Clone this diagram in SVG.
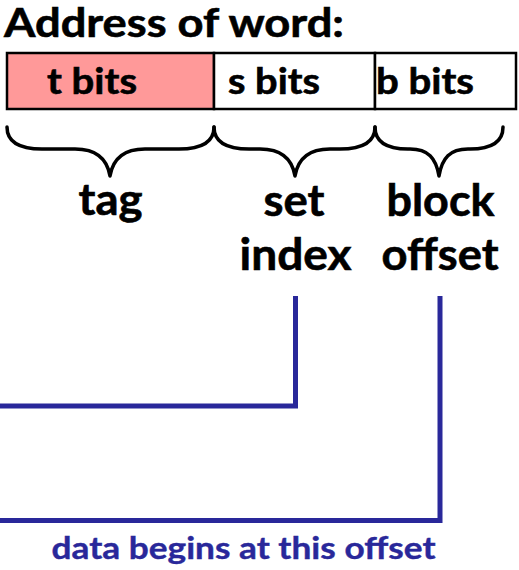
<svg xmlns="http://www.w3.org/2000/svg" width="519" height="570" viewBox="0 0 519 570">
  <style>
    .lbl { font-family: Lato, "Open Sans", "Liberation Sans", sans-serif; font-weight: bold; fill: #000; stroke: #000; stroke-width: 0.6; }
    .title { font-size: 41px; }
    .field { font-size: 36px; }
    .part { font-size: 43px; }
    .note { font-family: Lato, "Open Sans", "Liberation Sans", sans-serif; font-weight: bold; font-size: 31px; fill: #29289A; stroke: #29289A; stroke-width: 0.4; }
    .cell { stroke: #000; stroke-width: 2.5; }
    .brace { fill: none; stroke: #000; stroke-width: 3.5; stroke-linecap: round; stroke-linejoin: round; }
    .wire { fill: none; stroke: #29289A; stroke-width: 5; stroke-linejoin: miter; }
  </style>

  <text class="lbl title" x="4" y="36.5" textLength="340" lengthAdjust="spacingAndGlyphs">Address of word:</text>

  <!-- address fields -->
  <g id="field-tag">
    <rect class="cell" x="7" y="53" width="207" height="56" fill="#FF9999"/>
    <text class="lbl field" x="47" y="93.5" textLength="90" lengthAdjust="spacingAndGlyphs">t bits</text>
  </g>
  <g id="field-set">
    <rect class="cell" x="214" y="53" width="161" height="56" fill="#FFFFFF"/>
    <text class="lbl field" x="228" y="93.5" textLength="92" lengthAdjust="spacingAndGlyphs">s bits</text>
  </g>
  <g id="field-offset">
    <rect class="cell" x="375" y="53" width="141" height="56" fill="#FFFFFF"/>
    <text class="lbl field" x="376" y="93.5" textLength="98" lengthAdjust="spacingAndGlyphs">b bits</text>
  </g>

  <!-- braces under each field -->
  <g id="brace-tag">
    <path class="brace" d="M7,127 C7,142 19,149 42,149 L75,149 C95,149 107,158 110,176 C113,158 125,149 145,149 L179,149 C202,149 214,142 214,127"/>
    <text class="lbl part" x="78.5" y="215" textLength="64" lengthAdjust="spacingAndGlyphs">tag</text>
  </g>
  <g id="brace-set">
    <path class="brace" d="M214,127 C214,142 226,149 249,149 L260,149 C280,149 292,158 295,176 C298,158 310,149 330,149 L340,149 C363,149 375,142 375,127"/>
    <text class="lbl part" x="263.5" y="215.5" textLength="61" lengthAdjust="spacingAndGlyphs">set</text>
    <text class="lbl part" x="239.5" y="270" textLength="112" lengthAdjust="spacingAndGlyphs">index</text>
  </g>
  <g id="brace-offset">
    <path class="brace" d="M375,127 C375,142 387,149 408,149 L410,149 C428,149 436,158 439,176 C442,158 450,149 468,149 L470,149 C491,149 503,142 503,127"/>
    <text class="lbl part" x="386.5" y="215.5" textLength="108" lengthAdjust="spacingAndGlyphs">block</text>
    <text class="lbl part" x="381.5" y="270" textLength="117" lengthAdjust="spacingAndGlyphs">offset</text>
  </g>

  <!-- connectors leading off to the left -->
  <g id="connectors">
    <path class="wire" d="M295.5,296 L295.5,406 L0,406"/>
    <path class="wire" d="M440,296 L440,520.5 L0,520.5"/>
  </g>

  <text class="note" x="51.5" y="558.5" textLength="384" lengthAdjust="spacingAndGlyphs">data begins at this offset</text>
</svg>
